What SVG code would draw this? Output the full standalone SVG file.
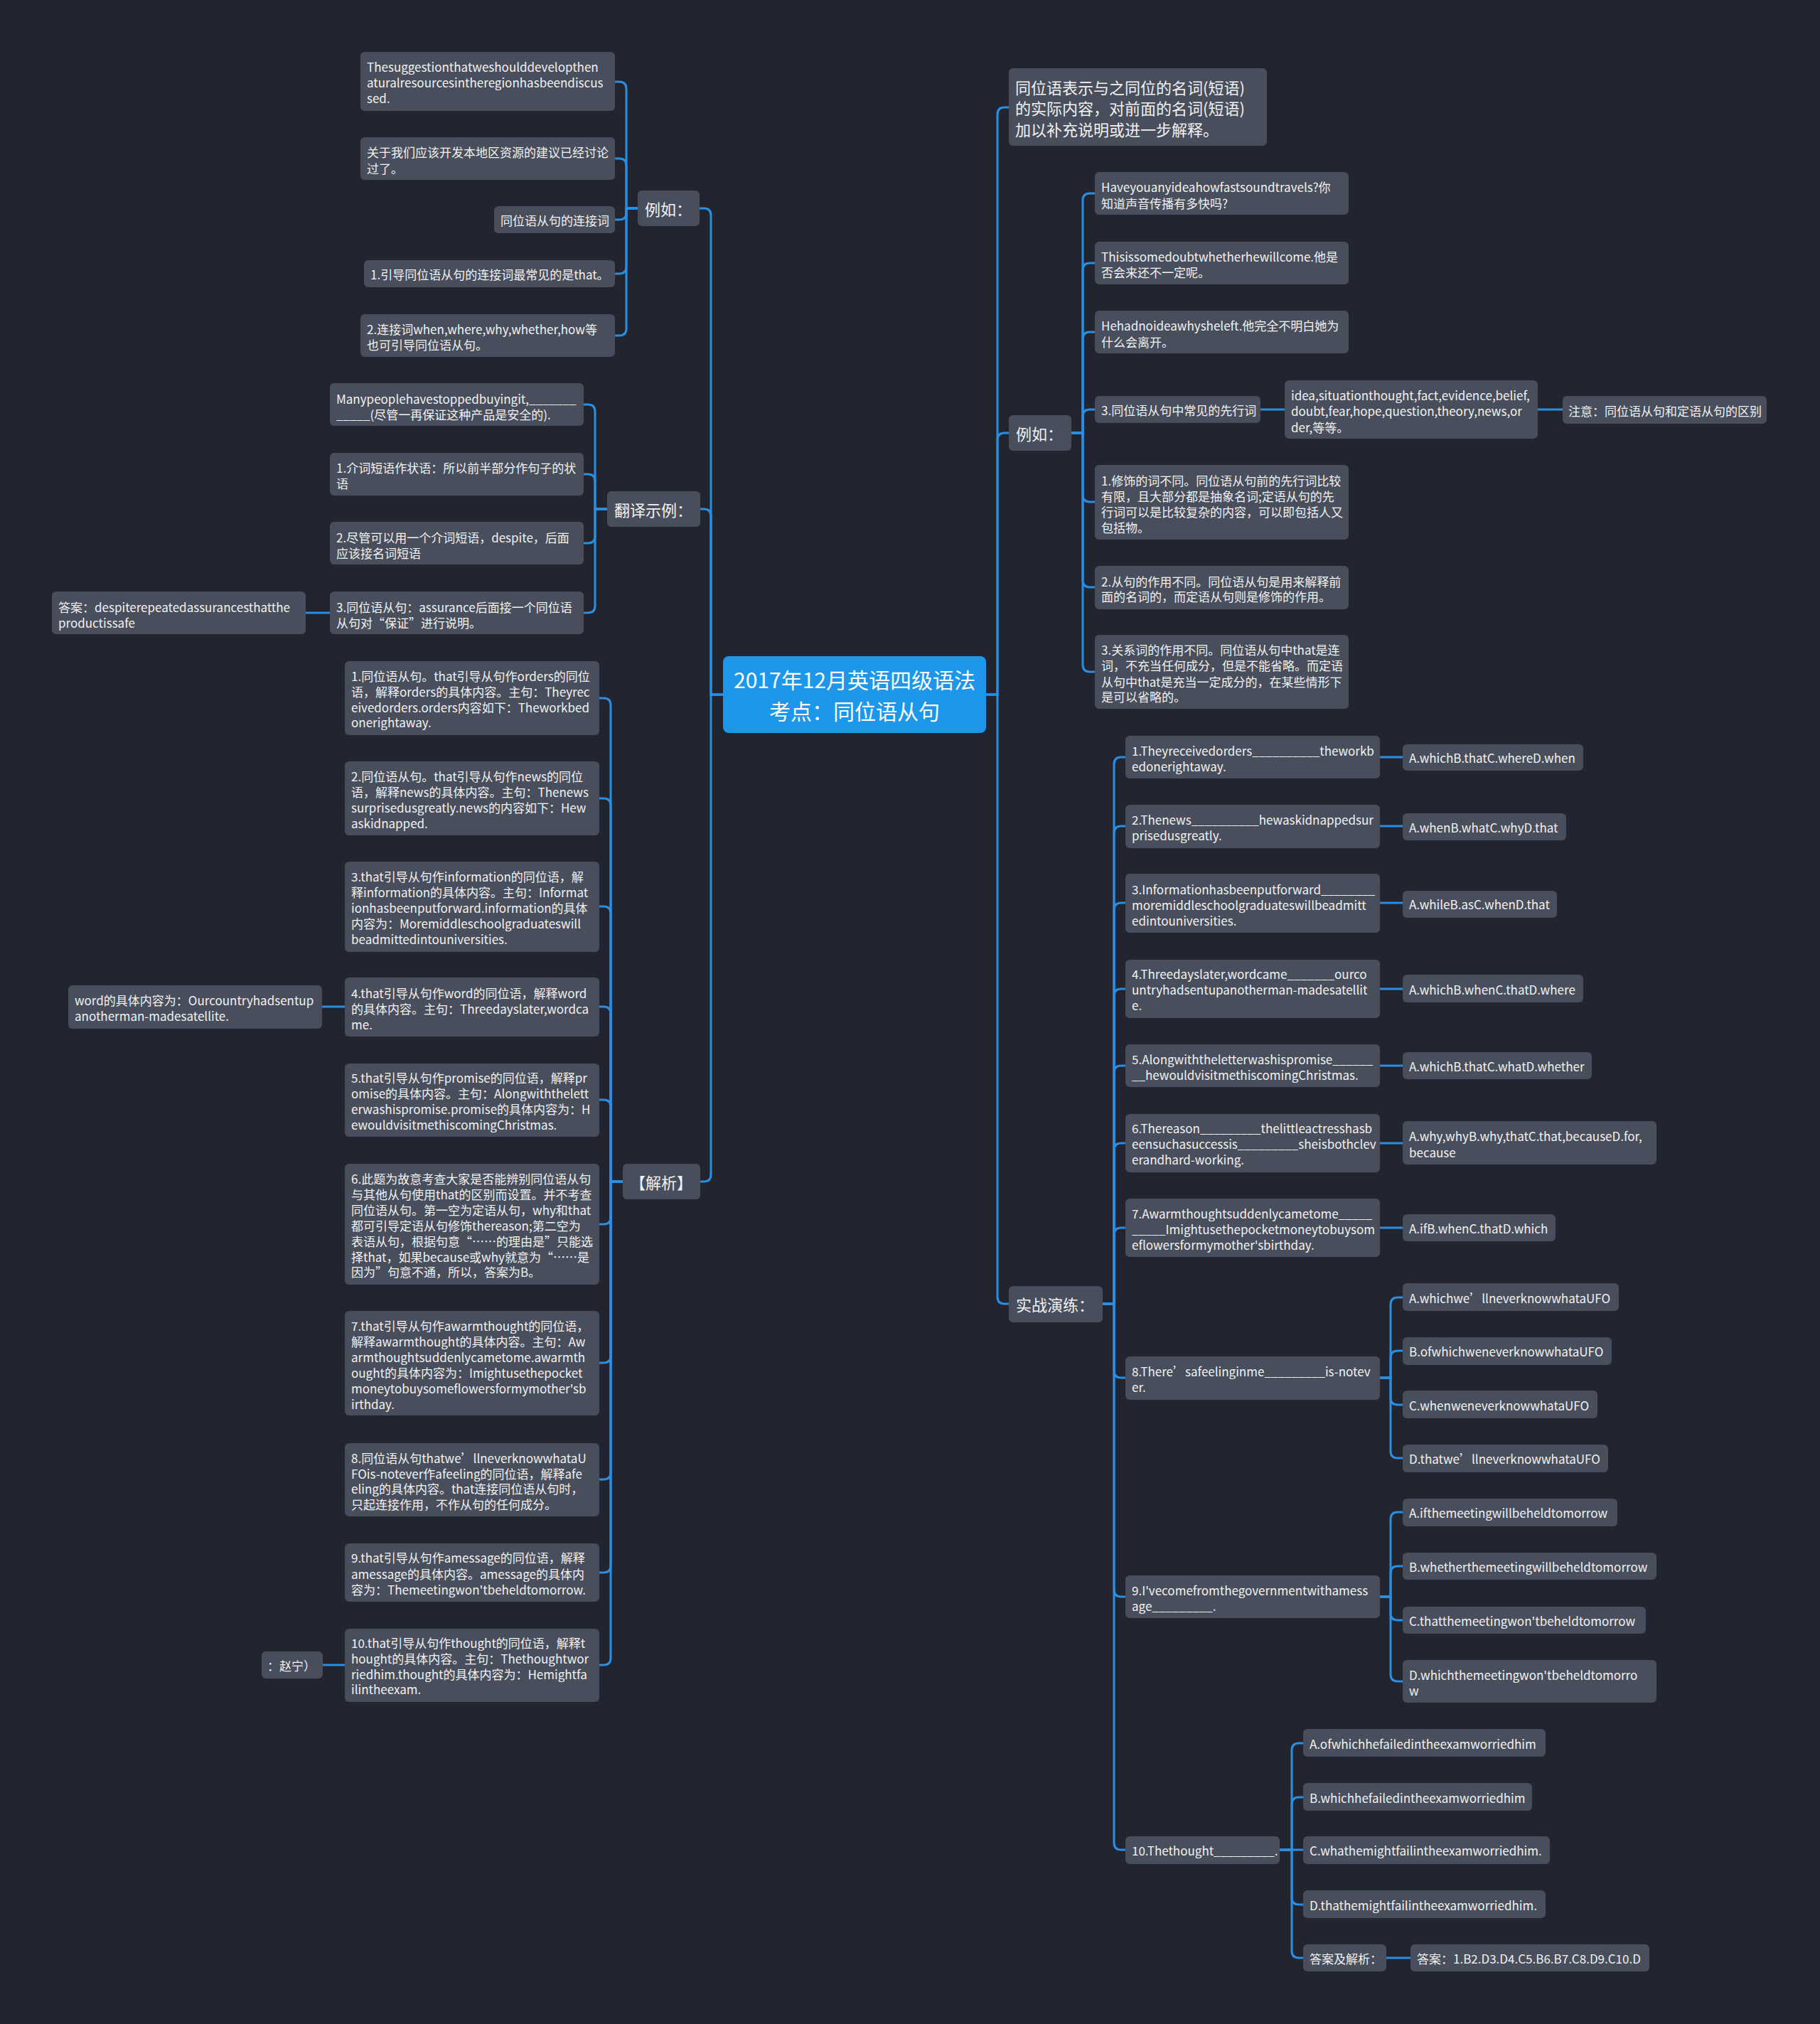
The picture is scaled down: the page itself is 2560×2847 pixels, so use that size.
<svg xmlns="http://www.w3.org/2000/svg" width="2560" height="2847" viewBox="0 0 2560 2847">
<style>
.bg{fill:#22252f}
.n{fill:#484e5c}
.r{fill:#1d97ea}
.t{font-family:"Noto Sans CJK SC","Microsoft YaHei",sans-serif;font-size:17px;fill:#f2f2f2;dominant-baseline:central}
.t1{font-family:"Noto Sans CJK SC","Microsoft YaHei",sans-serif;font-size:22px;fill:#f2f2f2;dominant-baseline:central}
.tr{font-family:"Noto Sans CJK SC","Microsoft YaHei",sans-serif;font-size:30px;fill:#ffffff;dominant-baseline:central;text-anchor:middle}
.c path{fill:none;stroke:#2a8fe2;stroke-width:3;stroke-linecap:round}
</style>
<rect class="bg" x="0" y="0" width="2560" height="2847"/>
<g class="c" id="connectors">
<path d="M1017,977 H1000 V303 Q1000,293 990,293 H984"/>
<path d="M1017,977 H1000 V726 Q1000,716 990,716 H985"/>
<path d="M1017,977 H1000 V1652 Q1000,1662 990,1662 H985"/>
<path d="M1387,977 H1403 V161 Q1403,151 1413,151 H1419"/>
<path d="M1387,977 H1403 V619 Q1403,609 1413,609 H1419"/>
<path d="M1387,977 H1403 V1824 Q1403,1834 1413,1834 H1419"/>
<path d="M897,293 H881 V125 Q881,115 871,115 H865"/>
<path d="M897,293 H881 V233 Q881,223 871,223 H865"/>
<path d="M897,293 H881 V299 Q881,309 871,309 H865"/>
<path d="M897,293 H881 V375 Q881,385 871,385 H865"/>
<path d="M897,293 H881 V462 Q881,472 871,472 H865"/>
<path d="M854,716 H837 V579 Q837,569 827,569 H821"/>
<path d="M854,716 H837 V677 Q837,667 827,667 H821"/>
<path d="M854,716 H837 V754 Q837,764 827,764 H821"/>
<path d="M854,716 H837 V852 Q837,862 827,862 H821"/>
<path d="M464,862 H430"/>
<path d="M876,1662 H859 V992 Q859,982 849,982 H843"/>
<path d="M876,1662 H859 V1133 Q859,1123 849,1123 H843"/>
<path d="M876,1662 H859 V1285 Q859,1275 849,1275 H843"/>
<path d="M876,1662 H859 V1426 Q859,1416 849,1416 H843"/>
<path d="M876,1662 H859 V1557 Q859,1547 849,1547 H843"/>
<path d="M876,1662 H859 V1712 Q859,1722 849,1722 H843"/>
<path d="M876,1662 H859 V1907 Q859,1917 849,1917 H843"/>
<path d="M876,1662 H859 V2071 Q859,2081 849,2081 H843"/>
<path d="M876,1662 H859 V2202 Q859,2212 849,2212 H843"/>
<path d="M876,1662 H859 V2332 Q859,2342 849,2342 H843"/>
<path d="M485,1416 H453"/>
<path d="M485,2342 H454"/>
<path d="M1507,609 H1523 V282 Q1523,272 1533,272 H1540"/>
<path d="M1507,609 H1523 V380 Q1523,370 1533,370 H1540"/>
<path d="M1507,609 H1523 V477 Q1523,467 1533,467 H1540"/>
<path d="M1507,609 H1523 V586 Q1523,576 1533,576 H1540"/>
<path d="M1507,609 H1523 V696 Q1523,706 1533,706 H1540"/>
<path d="M1507,609 H1523 V816 Q1523,826 1533,826 H1540"/>
<path d="M1507,609 H1523 V935 Q1523,945 1533,945 H1540"/>
<path d="M1773,576 H1807"/>
<path d="M2163,576 H2198"/>
<path d="M1551,1834 H1567 V1075 Q1567,1065 1577,1065 H1583"/>
<path d="M1551,1834 H1567 V1172 Q1567,1162 1577,1162 H1583"/>
<path d="M1551,1834 H1567 V1280 Q1567,1270 1577,1270 H1583"/>
<path d="M1551,1834 H1567 V1401 Q1567,1391 1577,1391 H1583"/>
<path d="M1551,1834 H1567 V1509 Q1567,1499 1577,1499 H1583"/>
<path d="M1551,1834 H1567 V1618 Q1567,1608 1577,1608 H1583"/>
<path d="M1551,1834 H1567 V1737 Q1567,1727 1577,1727 H1583"/>
<path d="M1551,1834 H1567 V1928 Q1567,1938 1577,1938 H1583"/>
<path d="M1551,1834 H1567 V2236 Q1567,2246 1577,2246 H1583"/>
<path d="M1551,1834 H1567 V2592 Q1567,2602 1577,2602 H1583"/>
<path d="M1941,1065 H1973"/>
<path d="M1941,1162 H1973"/>
<path d="M1941,1270 H1973"/>
<path d="M1941,1391 H1973"/>
<path d="M1941,1499 H1973"/>
<path d="M1941,1608 H1973"/>
<path d="M1941,1727 H1973"/>
<path d="M1941,1938 H1956 V1835 Q1956,1825 1966,1825 H1973"/>
<path d="M1941,1938 H1956 V1910 Q1956,1900 1966,1900 H1973"/>
<path d="M1941,1938 H1956 V1966 Q1956,1976 1966,1976 H1973"/>
<path d="M1941,1938 H1956 V2041 Q1956,2051 1966,2051 H1973"/>
<path d="M1941,2246 H1956 V2137 Q1956,2127 1966,2127 H1973"/>
<path d="M1941,2246 H1956 V2213 Q1956,2203 1966,2203 H1973"/>
<path d="M1941,2246 H1956 V2269 Q1956,2279 1966,2279 H1973"/>
<path d="M1941,2246 H1956 V2355 Q1956,2365 1966,2365 H1973"/>
<path d="M1800,2602 H1817 V2462 Q1817,2452 1827,2452 H1833"/>
<path d="M1800,2602 H1817 V2538 Q1817,2528 1827,2528 H1833"/>
<path d="M1800,2602 H1833"/>
<path d="M1800,2602 H1817 V2669 Q1817,2679 1827,2679 H1833"/>
<path d="M1800,2602 H1817 V2744 Q1817,2754 1827,2754 H1833"/>
<path d="M1950,2754 H1984"/>
</g>

<g id="root"><rect class="r" x="1017" y="923" width="370" height="108" rx="8"/>
<text class="tr"><tspan x="1202" y="955">2017年12月英语四级语法</tspan><tspan x="1202" y="999">考点：同位语从句</tspan></text></g>

<g id="l-ex"><rect class="n" x="897" y="268" width="87" height="50" rx="6"/><text class="t1" x="907" y="293">例如：</text></g>
<g id="l-ex-1"><rect class="n" x="507" y="73" width="358" height="83" rx="6"/><text class="t"><tspan x="516" y="93">Thesuggestionthatweshoulddevelopthen</tspan><tspan x="516" y="115">aturalresourcesintheregionhasbeendiscus</tspan><tspan x="516" y="137">sed.</tspan></text></g>
<g id="l-ex-2"><rect class="n" x="507" y="193" width="358" height="60" rx="6"/><text class="t"><tspan x="516" y="213">关于我们应该开发本地区资源的建议已经讨论</tspan><tspan x="516" y="236">过了。</tspan></text></g>
<g id="l-ex-3"><rect class="n" x="695" y="290" width="170" height="38" rx="6"/><text class="t" x="704" y="309">同位语从句的连接词</text></g>
<g id="l-ex-4"><rect class="n" x="512" y="366" width="353" height="38" rx="6"/><text class="t" x="521" y="385">1.引导同位语从句的连接词最常见的是that。</text></g>
<g id="l-ex-5"><rect class="n" x="507" y="442" width="358" height="60" rx="6"/><text class="t"><tspan x="516" y="462">2.连接词when,where,why,whether,how等</tspan><tspan x="516" y="484">也可引导同位语从句。</tspan></text></g>

<g id="l-tr"><rect class="n" x="854" y="691" width="131" height="50" rx="6"/><text class="t1" x="864" y="716">翻译示例：</text></g>
<g id="l-tr-1"><rect class="n" x="464" y="539" width="357" height="60" rx="6"/><text class="t"><tspan x="473" y="560">Manypeoplehavestoppedbuyingit,_______</tspan><tspan x="473" y="582">_____(尽管一再保证这种产品是安全的).</tspan></text></g>
<g id="l-tr-2"><rect class="n" x="464" y="637" width="357" height="60" rx="6"/><text class="t"><tspan x="473" y="657">1.介词短语作状语：所以前半部分作句子的状</tspan><tspan x="473" y="679">语</tspan></text></g>
<g id="l-tr-3"><rect class="n" x="464" y="734" width="357" height="60" rx="6"/><text class="t"><tspan x="473" y="755">2.尽管可以用一个介词短语，despite，后面</tspan><tspan x="473" y="777">应该接名词短语</tspan></text></g>
<g id="l-tr-4"><rect class="n" x="464" y="832" width="357" height="60" rx="6"/><text class="t"><tspan x="473" y="853">3.同位语从句：assurance后面接一个同位语</tspan><tspan x="473" y="875">从句对“保证”进行说明。</tspan></text></g>
<g id="l-tr-4a"><rect class="n" x="73" y="832" width="357" height="60" rx="6"/><text class="t"><tspan x="82" y="853">答案：despiterepeatedassurancesthatthe</tspan><tspan x="82" y="875">productissafe</tspan></text></g>

<g id="l-an"><rect class="n" x="876" y="1637" width="109" height="50" rx="6"/><text class="t1" x="930" y="1662" text-anchor="middle">【解析】</text></g>
<g id="l-an-1"><rect class="n" x="485" y="930" width="358" height="104" rx="6"/><text class="t"><tspan x="494" y="950">1.同位语从句。that引导从句作orders的同位</tspan><tspan x="494" y="972">语，解释orders的具体内容。主句：Theyrec</tspan><tspan x="494" y="994">eivedorders.orders内容如下：Theworkbed</tspan><tspan x="494" y="1015">onerightaway.</tspan></text></g>
<g id="l-an-2"><rect class="n" x="485" y="1071" width="358" height="104" rx="6"/><text class="t"><tspan x="494" y="1091">2.同位语从句。that引导从句作news的同位</tspan><tspan x="494" y="1113">语，解释news的具体内容。主句：Thenews</tspan><tspan x="494" y="1135">surprisedusgreatly.news的内容如下：Hew</tspan><tspan x="494" y="1157">askidnapped.</tspan></text></g>
<g id="l-an-3"><rect class="n" x="485" y="1212" width="358" height="127" rx="6"/><text class="t"><tspan x="494" y="1232">3.that引导从句作information的同位语，解</tspan><tspan x="494" y="1254">释information的具体内容。主句：Informat</tspan><tspan x="494" y="1276">ionhasbeenputforward.information的具体</tspan><tspan x="494" y="1298">内容为：Moremiddleschoolgraduateswill</tspan><tspan x="494" y="1320">beadmittedintouniversities.</tspan></text></g>
<g id="l-an-4"><rect class="n" x="485" y="1375" width="358" height="83" rx="6"/><text class="t"><tspan x="494" y="1396">4.that引导从句作word的同位语，解释word</tspan><tspan x="494" y="1418">的具体内容。主句：Threedayslater,wordca</tspan><tspan x="494" y="1440">me.</tspan></text></g>
<g id="l-an-4a"><rect class="n" x="96" y="1386" width="357" height="61" rx="6"/><text class="t"><tspan x="105" y="1406">word的具体内容为：Ourcountryhadsentup</tspan><tspan x="105" y="1428">anotherman-madesatellite.</tspan></text></g>
<g id="l-an-5"><rect class="n" x="485" y="1496" width="358" height="103" rx="6"/><text class="t"><tspan x="494" y="1515">5.that引导从句作promise的同位语，解释pr</tspan><tspan x="494" y="1537">omise的具体内容。主句：Alongwiththelett</tspan><tspan x="494" y="1559">erwashispromise.promise的具体内容为：H</tspan><tspan x="494" y="1581">ewouldvisitmethiscomingChristmas.</tspan></text></g>
<g id="l-an-6"><rect class="n" x="485" y="1637" width="358" height="170" rx="6"/><text class="t"><tspan x="494" y="1657">6.此题为故意考查大家是否能辨别同位语从句</tspan><tspan x="494" y="1679">与其他从句使用that的区别而设置。并不考查</tspan><tspan x="494" y="1701">同位语从句。第一空为定语从句，why和that</tspan><tspan x="494" y="1723">都可引导定语从句修饰thereason;第二空为</tspan><tspan x="494" y="1745">表语从句，根据句意“……的理由是”只能选</tspan><tspan x="494" y="1767">择that，如果because或why就意为“……是</tspan><tspan x="494" y="1788">因为”句意不通，所以，答案为B。</tspan></text></g>
<g id="l-an-7"><rect class="n" x="485" y="1844" width="358" height="147" rx="6"/><text class="t"><tspan x="494" y="1864">7.that引导从句作awarmthought的同位语，</tspan><tspan x="494" y="1886">解释awarmthought的具体内容。主句：Aw</tspan><tspan x="494" y="1908">armthoughtsuddenlycametome.awarmth</tspan><tspan x="494" y="1930">ought的具体内容为：Imightusethepocket</tspan><tspan x="494" y="1952">moneytobuysomeflowersformymother'sb</tspan><tspan x="494" y="1974">irthday.</tspan></text></g>
<g id="l-an-8"><rect class="n" x="485" y="2030" width="358" height="103" rx="6"/><text class="t"><tspan x="494" y="2050">8.同位语从句thatwe’llneverknowwhataU</tspan><tspan x="494" y="2072">FOis-notever作afeeling的同位语，解释afe</tspan><tspan x="494" y="2093">eling的具体内容。that连接同位语从句时，</tspan><tspan x="494" y="2115">只起连接作用，不作从句的任何成分。</tspan></text></g>
<g id="l-an-9"><rect class="n" x="485" y="2171" width="358" height="82" rx="6"/><text class="t"><tspan x="494" y="2190">9.that引导从句作amessage的同位语，解释</tspan><tspan x="494" y="2213">amessage的具体内容。amessage的具体内</tspan><tspan x="494" y="2235">容为：Themeetingwon'tbeheldtomorrow.</tspan></text></g>
<g id="l-an-10"><rect class="n" x="485" y="2291" width="358" height="103" rx="6"/><text class="t"><tspan x="494" y="2310">10.that引导从句作thought的同位语，解释t</tspan><tspan x="494" y="2332">hought的具体内容。主句：Thethoughtwor</tspan><tspan x="494" y="2354">riedhim.thought的具体内容为：Hemightfa</tspan><tspan x="494" y="2375">ilintheexam.</tspan></text></g>
<g id="l-an-10a"><rect class="n" x="368" y="2323" width="86" height="38" rx="6"/><text class="t" x="376" y="2342">：赵宁）</text></g>

<g id="r-def"><rect class="n" x="1419" y="96" width="363" height="109" rx="6"/><text class="t1"><tspan x="1428" y="122">同位语表示与之同位的名词(短语)</tspan><tspan x="1428" y="151">的实际内容，对前面的名词(短语)</tspan><tspan x="1428" y="181">加以补充说明或进一步解释。</tspan></text></g>

<g id="r-ex"><rect class="n" x="1419" y="584" width="88" height="50" rx="6"/><text class="t1" x="1429" y="609">例如：</text></g>
<g id="r-ex-1"><rect class="n" x="1540" y="242" width="357" height="60" rx="6"/><text class="t"><tspan x="1549" y="262">Haveyouanyideahowfastsoundtravels?你</tspan><tspan x="1549" y="285">知道声音传播有多快吗?</tspan></text></g>
<g id="r-ex-2"><rect class="n" x="1540" y="340" width="357" height="60" rx="6"/><text class="t"><tspan x="1549" y="360">Thisissomedoubtwhetherhewillcome.他是</tspan><tspan x="1549" y="382">否会来还不一定呢。</tspan></text></g>
<g id="r-ex-3"><rect class="n" x="1540" y="437" width="357" height="60" rx="6"/><text class="t"><tspan x="1549" y="457">Hehadnoideawhysheleft.他完全不明白她为</tspan><tspan x="1549" y="480">什么会离开。</tspan></text></g>
<g id="r-ex-4"><rect class="n" x="1540" y="557" width="233" height="38" rx="6"/><text class="t" x="1549" y="576">3.同位语从句中常见的先行词</text></g>
<g id="r-ex-4a"><rect class="n" x="1807" y="535" width="356" height="82" rx="6"/><text class="t"><tspan x="1816" y="555">idea,situationthought,fact,evidence,belief,</tspan><tspan x="1816" y="577">doubt,fear,hope,question,theory,news,or</tspan><tspan x="1816" y="600">der,等等。</tspan></text></g>
<g id="r-ex-4b"><rect class="n" x="2198" y="557" width="287" height="39" rx="6"/><text class="t" x="2206" y="577">注意：同位语从句和定语从句的区别</text></g>
<g id="r-ex-5"><rect class="n" x="1540" y="654" width="357" height="105" rx="6"/><text class="t"><tspan x="1549" y="675">1.修饰的词不同。同位语从句前的先行词比较</tspan><tspan x="1549" y="697">有限，且大部分都是抽象名词;定语从句的先</tspan><tspan x="1549" y="719">行词可以是比较复杂的内容，可以即包括人又</tspan><tspan x="1549" y="741">包括物。</tspan></text></g>
<g id="r-ex-6"><rect class="n" x="1540" y="796" width="357" height="61" rx="6"/><text class="t"><tspan x="1549" y="817">2.从句的作用不同。同位语从句是用来解释前</tspan><tspan x="1549" y="838">面的名词的，而定语从句则是修饰的作用。</tspan></text></g>
<g id="r-ex-7"><rect class="n" x="1540" y="893" width="357" height="104" rx="6"/><text class="t"><tspan x="1549" y="913">3.关系词的作用不同。同位语从句中that是连</tspan><tspan x="1549" y="935">词，不充当任何成分，但是不能省略。而定语</tspan><tspan x="1549" y="958">从句中that是充当一定成分的，在某些情形下</tspan><tspan x="1549" y="979">是可以省略的。</tspan></text></g>

<g id="r-pr"><rect class="n" x="1419" y="1809" width="132" height="51" rx="6"/><text class="t1" x="1429" y="1834">实战演练：</text></g>
<g id="q1"><rect class="n" x="1583" y="1035" width="358" height="60" rx="6"/><text class="t"><tspan x="1592" y="1055">1.Theyreceivedorders__________theworkb</tspan><tspan x="1592" y="1077">edonerightaway.</tspan></text></g>
<g id="q1a"><rect class="n" x="1973" y="1047" width="254" height="37" rx="6"/><text class="t" x="1982" y="1065">A.whichB.thatC.whereD.when</text></g>
<g id="q2"><rect class="n" x="1583" y="1132" width="358" height="61" rx="6"/><text class="t"><tspan x="1592" y="1152">2.Thenews__________hewaskidnappedsur</tspan><tspan x="1592" y="1174">prisedusgreatly.</tspan></text></g>
<g id="q2a"><rect class="n" x="1973" y="1144" width="230" height="38" rx="6"/><text class="t" x="1982" y="1163">A.whenB.whatC.whyD.that</text></g>
<g id="q3"><rect class="n" x="1583" y="1229" width="358" height="83" rx="6"/><text class="t"><tspan x="1592" y="1250">3.Informationhasbeenputforward________</tspan><tspan x="1592" y="1272">moremiddleschoolgraduateswillbeadmitt</tspan><tspan x="1592" y="1294">edintouniversities.</tspan></text></g>
<g id="q3a"><rect class="n" x="1973" y="1253" width="217" height="38" rx="6"/><text class="t" x="1982" y="1271">A.whileB.asC.whenD.that</text></g>
<g id="q4"><rect class="n" x="1583" y="1350" width="358" height="82" rx="6"/><text class="t"><tspan x="1592" y="1369">4.Threedayslater,wordcame_______ourco</tspan><tspan x="1592" y="1391">untryhadsentupanotherman-madesatellit</tspan><tspan x="1592" y="1413">e.</tspan></text></g>
<g id="q4a"><rect class="n" x="1973" y="1371" width="254" height="39" rx="6"/><text class="t" x="1982" y="1391">A.whichB.whenC.thatD.where</text></g>
<g id="q5"><rect class="n" x="1583" y="1469" width="358" height="60" rx="6"/><text class="t"><tspan x="1592" y="1489">5.Alongwiththeletterwashispromise______</tspan><tspan x="1592" y="1511">__hewouldvisitmethiscomingChristmas.</tspan></text></g>
<g id="q5a"><rect class="n" x="1973" y="1480" width="266" height="38" rx="6"/><text class="t" x="1982" y="1499">A.whichB.thatC.whatD.whether</text></g>
<g id="q6"><rect class="n" x="1583" y="1567" width="358" height="82" rx="6"/><text class="t"><tspan x="1592" y="1586">6.Thereason_________thelittleactresshasb</tspan><tspan x="1592" y="1608">eensuchasuccessis_________sheisbothclev</tspan><tspan x="1592" y="1630">erandhard-working.</tspan></text></g>
<g id="q6a"><rect class="n" x="1973" y="1577" width="357" height="61" rx="6"/><text class="t"><tspan x="1982" y="1597">A.why,whyB.why,thatC.that,becauseD.for,</tspan><tspan x="1982" y="1620">because</tspan></text></g>
<g id="q7"><rect class="n" x="1583" y="1686" width="358" height="82" rx="6"/><text class="t"><tspan x="1592" y="1706">7.Awarmthoughtsuddenlycametome_____</tspan><tspan x="1592" y="1728">_____Imightusethepocketmoneytobuysom</tspan><tspan x="1592" y="1750">eflowersformymother'sbirthday.</tspan></text></g>
<g id="q7a"><rect class="n" x="1973" y="1708" width="215" height="38" rx="6"/><text class="t" x="1982" y="1727">A.ifB.whenC.thatD.which</text></g>
<g id="q8"><rect class="n" x="1583" y="1908" width="358" height="61" rx="6"/><text class="t"><tspan x="1592" y="1928">8.There’safeelinginme_________is-notev</tspan><tspan x="1592" y="1950">er.</tspan></text></g>
<g id="q8a"><rect class="n" x="1973" y="1805" width="304" height="39" rx="6"/><text class="t" x="1982" y="1825">A.whichwe’llneverknowwhataUFO</text></g>
<g id="q8b"><rect class="n" x="1973" y="1881" width="294" height="39" rx="6"/><text class="t" x="1982" y="1900">B.ofwhichweneverknowwhataUFO</text></g>
<g id="q8c"><rect class="n" x="1973" y="1956" width="274" height="39" rx="6"/><text class="t" x="1982" y="1976">C.whenweneverknowwhataUFO</text></g>
<g id="q8d"><rect class="n" x="1973" y="2032" width="289" height="39" rx="6"/><text class="t" x="1982" y="2051">D.thatwe’llneverknowwhataUFO</text></g>
<g id="q9"><rect class="n" x="1583" y="2216" width="358" height="60" rx="6"/><text class="t"><tspan x="1592" y="2236">9.I'vecomefromthegovernmentwithamess</tspan><tspan x="1592" y="2258">age_________.</tspan></text></g>
<g id="q9a"><rect class="n" x="1973" y="2108" width="302" height="39" rx="6"/><text class="t" x="1982" y="2127">A.ifthemeetingwillbeheldtomorrow</text></g>
<g id="q9b"><rect class="n" x="1973" y="2184" width="357" height="38" rx="6"/><text class="t" x="1982" y="2203">B.whetherthemeetingwillbeheldtomorrow</text></g>
<g id="q9c"><rect class="n" x="1973" y="2260" width="342" height="38" rx="6"/><text class="t" x="1982" y="2279">C.thatthemeetingwon'tbeheldtomorrow</text></g>
<g id="q9d"><rect class="n" x="1973" y="2335" width="357" height="60" rx="6"/><text class="t"><tspan x="1982" y="2355">D.whichthemeetingwon'tbeheldtomorro</tspan><tspan x="1982" y="2377">w</tspan></text></g>
<g id="q10"><rect class="n" x="1583" y="2583" width="217" height="39" rx="6"/><text class="t" x="1592" y="2602">10.Thethought_________.</text></g>
<g id="q10a"><rect class="n" x="1833" y="2432" width="341" height="39" rx="6"/><text class="t" x="1842" y="2452">A.ofwhichhefailedintheexamworriedhim</text></g>
<g id="q10b"><rect class="n" x="1833" y="2508" width="322" height="39" rx="6"/><text class="t" x="1842" y="2528">B.whichhefailedintheexamworriedhim</text></g>
<g id="q10c"><rect class="n" x="1833" y="2583" width="347" height="39" rx="6"/><text class="t" x="1842" y="2602">C.whathemightfailintheexamworriedhim.</text></g>
<g id="q10d"><rect class="n" x="1833" y="2659" width="341" height="39" rx="6"/><text class="t" x="1842" y="2679">D.thathemightfailintheexamworriedhim.</text></g>
<g id="q10e"><rect class="n" x="1833" y="2735" width="117" height="38" rx="6"/><text class="t" x="1842" y="2754">答案及解析：</text></g>
<g id="q10e1"><rect class="n" x="1984" y="2735" width="336" height="38" rx="6"/><text class="t" x="1993" y="2754">答案：1.B2.D3.D4.C5.B6.B7.C8.D9.C10.D</text></g>
</svg>
